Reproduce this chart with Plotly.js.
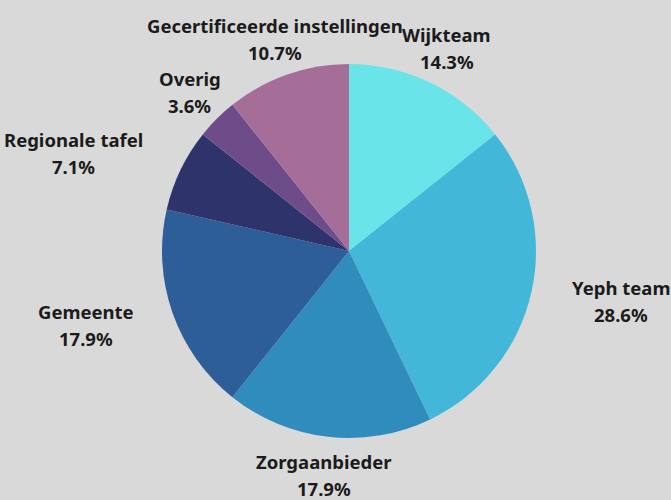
<!DOCTYPE html>
<html>
<head>
<meta charset="utf-8">
<script src="https://cdn.plot.ly/plotly-3.0.1.min.js"></script>
<style>html,body{margin:0;padding:0;background:#d9d9d9;}</style>
</head>
<body>
<div id="chart" style="width:671px;height:500px;"></div>
<script>
const labels = ["Wijkteam", "Yeph team", "Zorgaanbieder", "Gemeente", "Regionale tafel", "Overig", "Gecertificeerde instellingen"];
const values = [4, 8, 5, 5, 2, 1, 3];
const colors = ["#69e5e9", "#43b7d7", "#2f8cbd", "#2e5e98", "#2e336b", "#6e4c89", "#a56e98"];

// geometry (pixels)
const W = 671, H = 500;
const CX = 349, CY = 251, R = 187;   // pie centre and radius
const LR = 225;                      // radius at which labels sit
const LINE = 27;                     // label line spacing
const FONT_FAMILY = "Noto Sans, sans-serif";
const FONT_SIZE = 18.5;
const TEXT_COLOR = "#1b1b1b";

const total = values.reduce((a, b) => a + b, 0);
const ctx = document.createElement("canvas").getContext("2d");
ctx.font = "bold " + FONT_SIZE + "px 'Noto Sans'";
const measure = s => ctx.measureText(s).width;

const annotations = [];
let cum = 0;
labels.forEach((lab, i) => {
  const mid = (cum + values[i] / 2) / total * 2 * Math.PI;
  cum += values[i];
  const dx = Math.sin(mid), dy = -Math.cos(mid);
  const px = CX + dx * LR, py = CY + dy * LR;
  const pct = (values[i] / total * 100).toFixed(1) + "%";
  const side = Math.abs(dy) < 0.6;
  const w = Math.max(measure(lab), measure(pct));
  const xs = side ? Math.sign(dx) * (w / 2 + 3) : 0;
  const base = {
    x: px / W, y: 1 - py / H, xref: "paper", yref: "paper",
    showarrow: false, xanchor: "center", yanchor: "middle", xshift: xs,
    font: {family: FONT_FAMILY, size: FONT_SIZE, color: TEXT_COLOR}
  };
  annotations.push(Object.assign({}, base, {text: "<b>" + lab + "</b>", yshift: LINE / 2}));
  annotations.push(Object.assign({}, base, {text: "<b>" + pct + "</b>", yshift: -LINE / 2}));
});

Plotly.newPlot("chart", [{
  type: "pie",
  labels: labels,
  values: values,
  sort: false,
  direction: "clockwise",
  rotation: 0,
  domain: {x: [(CX - R) / W, (CX + R) / W], y: [1 - (CY + R) / H, 1 - (CY - R) / H]},
  marker: {colors: colors, line: {width: 0}},
  textposition: "none",
  textinfo: "none",
  hoverinfo: "none",
  automargin: false
}], {
  width: W,
  height: H,
  paper_bgcolor: "#d9d9d9",
  plot_bgcolor: "#d9d9d9",
  showlegend: false,
  margin: {l: 0, r: 0, t: 0, b: 0},
  annotations: annotations
}, {displayModeBar: false, staticPlot: true});
</script>
</body>
</html>
